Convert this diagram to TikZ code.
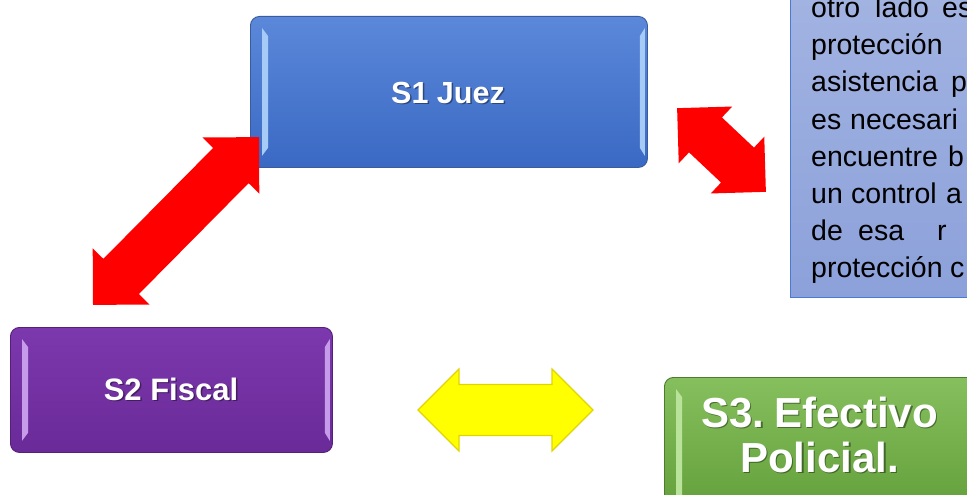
\documentclass[tikz,border=0pt]{standalone}
\usepackage{fontspec}
\setmainfont{Liberation Sans}
\usetikzlibrary{calc}
\definecolor{bluetop}{HTML}{5B88D9}
\definecolor{bluebot}{HTML}{3A69C4}
\definecolor{blueedge}{HTML}{3A5C9E}
\definecolor{bluebev}{HTML}{A7CBF7}
\definecolor{purtop}{HTML}{7C38AD}
\definecolor{purbot}{HTML}{6A2A98}
\definecolor{puredge}{HTML}{55207A}
\definecolor{purbev}{HTML}{C69BEA}
\definecolor{grntop}{HTML}{86C05E}
\definecolor{grnbot}{HTML}{5E9B36}
\definecolor{grnedge}{HTML}{4C7D2C}
\definecolor{grnbev}{HTML}{B9E39A}
\definecolor{tbtop}{HTML}{A3B4E2}
\definecolor{tbbot}{HTML}{8CA1DA}
\definecolor{tbedge}{HTML}{4A7BD0}
\definecolor{arrred}{HTML}{FF0000}
\definecolor{arryel}{HTML}{FFFF00}
\definecolor{arryeledge}{HTML}{E2D400}
\newcommand{\bevelstrips}[2]{%
  \fill[#2] ($(#1.north west)+(12,12)$) -- ($(#1.north west)+(18,20)$) -- ($(#1.south west)+(18,-20)$) -- ($(#1.south west)+(12,-12)$) -- cycle;
  \fill[#2] ($(#1.north east)+(-3,12)$) -- ($(#1.north east)+(-8,20)$) -- ($(#1.south east)+(-8,-20)$) -- ($(#1.south east)+(-3,-12)$) -- cycle;
}
% cx, cy, angle, length, head half width, shaft half width, style
\newcommand{\blockarrow}[7]{%
  \path[#7, shift={(#1,#2)}, rotate=#3]
    ({-#4/2},0) -- ({-#4/2+#5},{-#5}) -- ({-#4/2+#5},{-#6}) -- ({#4/2-#5},{-#6})
    -- ({#4/2-#5},{-#5}) -- ({#4/2},0) -- ({#4/2-#5},{#5}) -- ({#4/2-#5},{#6})
    -- ({-#4/2+#5},{#6}) -- ({-#4/2+#5},{#5}) -- cycle;
}
\tikzset{
  panel/.style={rounded corners=9pt, line width=0.9pt, inner sep=0pt, anchor=north west},
  ttl/.style={font=\bfseries\fontsize{#1}{#1}\selectfont, text=white, anchor=base, inner sep=0pt},
  ttlsh/.style={font=\bfseries\fontsize{#1}{#1}\selectfont, text=black, opacity=0.4, anchor=base, inner sep=0pt},
  para/.style={font=\fontsize{28.5}{28.5}\selectfont, text=black, anchor=base west, inner sep=0pt},
}
\begin{document}
\begin{tikzpicture}[x=1pt,y=-1pt]
\useasboundingbox (0,0) rectangle (967,495);
\clip (0,0) rectangle (967,495);
\fill[white] (0,0) rectangle (967,495);

% text box on the right
\node[draw=tbedge, line width=1pt, top color=tbtop, bottom color=tbbot, anchor=north west,
      minimum width=220pt, minimum height=317pt, inner sep=0pt] (tb) at (790,-20) {};
\node[para] (l1a) at (811,18) {otro};
\node[para] (l1b) at (875,18) {lado};
\node[para] (l1c) at (942,18) {es};
\node[para] (l2a) at (811,55) {protección};
\node[para] (l3a) at (811,92) {asistencia};
\node[para] (l3b) at (951,92) {p};
\node[para] (l4a) at (811,129) {es};
\node[para] (l4b) at (850,129) {necesari};
\node[para] (l5a) at (811,166) {encuentre};
\node[para] (l5b) at (948,166) {b};
\node[para] (l6a) at (811,203) {un};
\node[para] (l6b) at (851,203) {control};
\node[para] (l6c) at (946,203) {a};
\node[para] (l7a) at (811,240) {de};
\node[para] (l7b) at (858,240) {esa};
\node[para] (l7c) at (937,240) {r};
\node[para] (l8a) at (811,277) {protección};
\node[para] (l8b) at (950,277) {c};

% S1 Juez
\node[panel, draw=blueedge, top color=bluetop, bottom color=bluebot,
      minimum width=397pt, minimum height=151pt] (s1) at (250,16) {};
\bevelstrips{s1}{bluebev}
\node[ttlsh=30.5] (s1sh) at (449.5,104.5) {S1 Juez};
\node[ttl=30.5] (s1t) at (448,103) {S1 Juez};

% S2 Fiscal
\node[panel, draw=puredge, top color=purtop, bottom color=purbot,
      minimum width=322pt, minimum height=125pt] (s2) at (10,327) {};
\bevelstrips{s2}{purbev}
\node[ttlsh=31] (s2sh) at (172.5,401.5) {S2 Fiscal};
\node[ttl=31] (s2t) at (171,400) {S2 Fiscal};

% S3 Efectivo Policial
\node[panel, draw=grnedge, top color=grntop, bottom color=grnbot,
      minimum width=330pt, minimum height=150pt] (s3) at (664,377) {};
\bevelstrips{s3}{grnbev}
\node[ttlsh=42] (s3ash) at (821,428.5) {S3.\kern-1.5pt\ Efectivo};
\node[ttl=42] (s3a) at (819.5,427) {S3.\kern-1.5pt\ Efectivo};
\node[ttlsh=42] (s3bsh) at (821,473.5) {Policial.};
\node[ttl=42] (s3b) at (819.5,472) {Policial.};

% block arrows
\blockarrow{176}{221}{45.3}{236}{40}{25}{fill=arrred}
\blockarrow{721.5}{150}{-43.3}{122}{39}{24}{fill=arrred}
\blockarrow{505.5}{410}{0}{175}{41}{25.5}{fill=arryel, draw=arryeledge, line width=1.2pt}
\end{tikzpicture}
\end{document}
